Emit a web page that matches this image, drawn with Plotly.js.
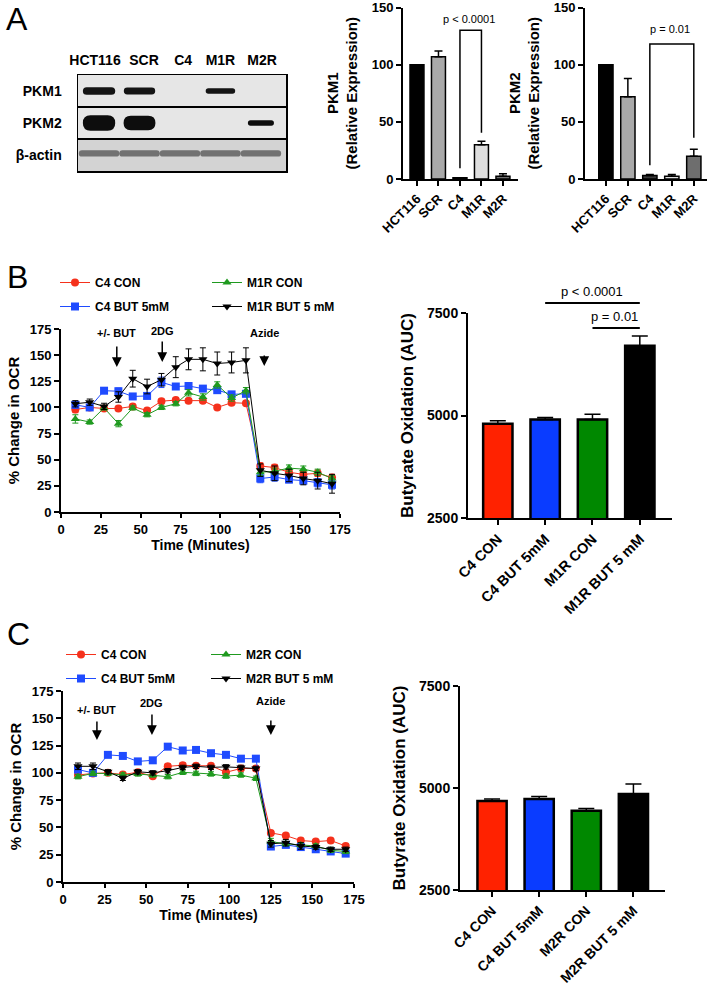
<!DOCTYPE html>
<html><head><meta charset="utf-8">
<script src="https://cdn.plot.ly/plotly-3.0.1.min.js"></script>
<style>html,body{margin:0;padding:0;background:#fff}#chart{width:708px;height:984px}</style>
</head><body><div id="chart"></div>
<script>
// ---------------- data ----------------
const lanes = ['HCT116', 'SCR', 'C4', 'M1R', 'M2R'];
const blotRows = ['PKM1', 'PKM2', 'β-actin'];
// relative band density read from the blot
const pkm1Band = [1.0, 0.9, 0, 0.7, 0];
const pkm2Band = [1.0, 0.95, 0, 0, 0.35];
const actinBand = [0.45, 0.45, 0.45, 0.45, 0.45];

const pkm1Expr = [100, 107, 1, 30, 2.5];
const pkm1Err = [0, 5, 0, 3, 2];
const pkm2Expr = [100, 72, 3, 2.5, 20];
const pkm2Err = [0, 16, 1, 1.5, 6];

const timeMin = [9, 18, 27, 36, 45, 54, 63, 72, 80, 89, 98, 107, 116, 125, 134, 143, 152, 161, 170];

const bC4Con = [98, 100, 99, 99, 101, 97, 106, 107, 106.5, 106.5, 100, 104.5, 104, 44, 42.5, 38, 36, 37, 33];
const bC4ConErr = [3, 2, 2, 2, 2, 2, 2, 2, 2, 2, 2, 2, 2, 3, 3, 3, 3, 3, 3];
const bC4But = [102.5, 100, 116, 115.5, 110.5, 111, 124, 120, 120.5, 118, 116.5, 112.5, 113, 32, 33.5, 31, 30, 28, 26];
const bC4ButErr = [3, 2, 2, 3, 2, 2, 5, 2, 2, 2, 2, 2, 2, 4, 4, 3, 3, 4, 4];
const bM1RCon = [89, 86, 99.5, 84.5, 99.5, 93, 100, 103.5, 114, 110, 121.5, 109, 116, 38, 39, 42, 41, 38, 32];
const bM1RConErr = [4, 2, 2, 3, 2, 2, 2, 2, 3, 3, 3, 3, 3, 3, 3, 3, 3, 3, 3];
const bM1RBut = [103.5, 105, 101, 110, 127.5, 120, 126.5, 138.5, 146, 146, 142, 143, 145, 40, 37, 35, 32, 30, 27];
const bM1RButErr = [3, 3, 3, 5, 8, 7, 6, 10, 10, 11, 11, 10, 12, 6, 7, 6, 6, 8, 9];

const cC4Con = [98, 99.5, 100, 98.5, 100.5, 97, 106, 107, 106.5, 106.5, 100.5, 104, 104, 45, 42.5, 38, 37, 38, 33];
const cC4ConErr = [2, 2, 2, 2, 2, 2, 2, 2, 2, 2, 2, 2, 2, 2, 2, 2, 2, 2, 2];
const cC4But = [103, 100, 116.5, 115.5, 110.5, 111.5, 124, 120.5, 121, 118, 116.5, 113, 113, 32.5, 34, 32, 30, 28, 26];
const cC4ButErr = [2, 2, 2, 2, 2, 2, 2, 2, 2, 2, 2, 2, 2, 2, 2, 2, 2, 2, 2];
const cM2RCon = [96.5, 99.5, 99.5, 98, 99, 98, 96.5, 100.5, 99.5, 99, 97, 98, 95, 37, 35, 34, 33, 29, 28];
const cM2RConErr = [2, 2, 2, 2, 2, 2, 2, 2, 2, 2, 2, 2, 2, 3, 2, 2, 2, 2, 2];
const cM2RBut = [106, 106, 101, 95, 101, 100, 102, 105, 106, 105, 105.5, 105, 104, 35, 36, 33, 32, 30, 30];
const cM2RButErr = [3, 3, 2, 2, 2, 2, 2, 2, 2, 2, 2, 2, 2, 3, 3, 3, 2, 2, 2];

const aucCatsB = ['C4 CON', 'C4 BUT 5mM', 'M1R CON', 'M1R BUT 5 mM'];
const aucB = [4800, 4900, 4900, 6700];
const aucErrB = [70, 50, 130, 240];
const aucCatsC = ['C4 CON', 'C4 BUT 5mM', 'M2R CON', 'M2R BUT 5 mM'];
const aucC = [4680, 4730, 4440, 4850];
const aucErrC = [50, 60, 60, 250];

// ---------------- styles ----------------
const F = 'Liberation Sans, Arial, Helvetica, sans-serif';
const W = 708, H = 984;
const px = a => a / W, py = b => 1 - b / H;
const dx = (a, b) => [a / W, b / W];
const dy = (top, bot) => [1 - bot / H, 1 - top / H];
const laneColors = ['#000000', '#a9a9a9', '#3a3a3a', '#dedede', '#6e6e6e'];
const aucColors = ['#ff2200', '#0a3cff', '#008800', '#000000'];
const RED = '#f5311c', BLUE = '#1f4bff', GREEN = '#1f9a1f', BLACK = '#000000';
const bold = (size) => ({family: F, size: size, color: '#000', weight: 700});

function axStyle(extra) {
  return Object.assign({
    showline: true, linecolor: '#000', linewidth: 2, ticks: 'outside', ticklen: 5,
    tickwidth: 2, tickcolor: '#000', showgrid: false, zeroline: false, ticklabeloverflow: 'allow',
    tickfont: bold(13), fixedrange: true
  }, extra);
}
const zeros = n => new Array(n).fill(0);

// ---------------- traces ----------------
const traces = [];
function exprBar(y, err, xa, ya) {
  return {type: 'bar', x: lanes, y: y, xaxis: xa, yaxis: ya, width: 0.65, showlegend: false,
    marker: {color: laneColors, line: {color: '#000', width: 1.5}},
    error_y: {type: 'data', symmetric: false, array: err, arrayminus: zeros(err.length), color: '#000', thickness: 1.5, width: 4}};
}
traces.push(exprBar(pkm1Expr, pkm1Err, 'x', 'y'));
traces.push(exprBar(pkm2Expr, pkm2Err, 'x2', 'y2'));

function ocr(name, y, err, color, symbol, size, xa, ya, leg) {
  return {type: 'scatter', mode: 'lines+markers', name: name, x: timeMin, y: y, xaxis: xa, yaxis: ya,
    legend: leg, legendgroup: name + leg, cliponaxis: false,
    line: {color: color, width: 1}, marker: {color: color, symbol: symbol, size: size},
    error_y: {type: 'data', array: err, color: color, thickness: 1, width: 3}};
}
traces.push(ocr('C4 CON', bC4Con, bC4ConErr, RED, 'circle', 8, 'x3', 'y3', 'legend'));
traces.push(ocr('C4 BUT 5mM', bC4But, bC4ButErr, BLUE, 'square', 8, 'x3', 'y3', 'legend'));
traces.push(ocr('M1R CON', bM1RCon, bM1RConErr, GREEN, 'triangle-up', 8, 'x3', 'y3', 'legend2'));
traces.push(ocr('M1R BUT 5 mM', bM1RBut, bM1RButErr, BLACK, 'triangle-down', 8, 'x3', 'y3', 'legend2'));

traces.push(ocr('C4 CON', cC4Con, cC4ConErr, RED, 'circle', 8, 'x5', 'y5', 'legend3'));
traces.push(ocr('C4 BUT 5mM', cC4But, cC4ButErr, BLUE, 'square', 8, 'x5', 'y5', 'legend3'));
traces.push(ocr('M2R CON', cM2RCon, cM2RConErr, GREEN, 'triangle-up', 8, 'x5', 'y5', 'legend4'));
traces.push(ocr('M2R BUT 5 mM', cM2RBut, cM2RButErr, BLACK, 'triangle-down', 8, 'x5', 'y5', 'legend4'));

function aucBar(cats, y, err, xa, ya) {
  return {type: 'bar', x: cats, y: y, xaxis: xa, yaxis: ya, width: 0.62, showlegend: false,
    marker: {color: aucColors, line: {color: '#000', width: 2.5}},
    error_y: {type: 'data', symmetric: false, array: err, arrayminus: zeros(err.length), color: '#000', thickness: 1.5, width: 8}};
}
traces.push(aucBar(aucCatsB, aucB, aucErrB, 'x4', 'y4'));
traces.push(aucBar(aucCatsC, aucC, aucErrC, 'x6', 'y6'));
// blot subplot holder
traces.push({type: 'scatter', x: [], y: [], xaxis: 'x7', yaxis: 'y7', showlegend: false});

// ---------------- blot shapes ----------------
const shapes = [];
const rowBg = ['#e6e6e6', '#e6e6e6', '#d3d3d3'];
rowBg.forEach((c, r) => shapes.push({type: 'rect', xref: 'x7', yref: 'y7', x0: -0.6, x1: 4.7, y0: r - 0.5, y1: r + 0.5,
  fillcolor: c, line: {width: 0}, layer: 'below'}));
const laneRowRatio = 32 / 40.5;
function bandPath(i, r, hw, hh) {
  const rx = Math.min(hh * laneRowRatio, hw * 0.5);
  const xl = i - hw, xr = i + hw, yt = r - hh, yb = r + hh;
  return `M${xl + rx},${yt} L${xr - rx},${yt} Q${xr},${yt} ${xr},${r} Q${xr},${yb} ${xr - rx},${yb} ` +
    `L${xl + rx},${yb} Q${xl},${yb} ${xl},${r} Q${xl},${yt} ${xl + rx},${yt} Z`;
}
[[pkm1Band, 0, 0.12, 'rgba(12,12,12,0.97)'], [pkm2Band, 1, 0.24, 'rgba(8,8,8,0.98)'], [actinBand, 2, 0.22, 'rgba(55,55,55,0.62)']]
  .forEach(([band, r, scale, col]) => {
    band.forEach((v, i) => {
      if (v <= 0) return;
      const hw = r === 2 ? 0.5 : 0.4 * (0.7 + 0.3 * v);
      shapes.push({type: 'path', xref: 'x7', yref: 'y7', path: bandPath(i, r + (r === 2 ? -0.05 : 0), hw, scale * v),
        fillcolor: col, line: {width: 0}, layer: 'above'});
    });
  });
[0.5, 1.5].forEach(v => shapes.push({type: 'line', xref: 'x7', yref: 'y7', x0: -0.6, x1: 4.7, y0: v, y1: v,
  line: {color: '#000', width: 2}}));

// significance brackets
shapes.push({type: 'path', xref: 'x', yref: 'y', path: 'M2,9.5 L2,130 L3,130 L3,40.5', line: {color: '#000', width: 1.5}});
shapes.push({type: 'path', xref: 'x2', yref: 'y2', path: 'M2,12 L2,118 L4,118 L4,36', line: {color: '#000', width: 1.5}});
shapes.push({type: 'line', xref: 'x4', yref: 'paper', x0: 1, x1: 3, y0: py(303), y1: py(303), line: {color: '#000', width: 2}});
shapes.push({type: 'line', xref: 'x4', yref: 'paper', x0: 2, x1: 3, y0: py(328), y1: py(328), line: {color: '#000', width: 2}});

// ---------------- annotations ----------------
const ann = [];
[['A', 17, 19], ['B', 17, 277], ['C', 18, 634]].forEach(([t, x, y]) => ann.push({text: t, xref: 'paper', yref: 'paper',
  x: px(x), y: py(y), showarrow: false, xanchor: 'center', yanchor: 'middle', font: {family: F, size: 32, color: '#000'}}));
const pfont = s => ({family: F, size: s, color: '#000'});
ann.push({text: 'p < 0.0001', xref: 'x', yref: 'y', x: 2.4, y: 140, showarrow: false, font: pfont(11)});
ann.push({text: 'p = 0.01', xref: 'x2', yref: 'y2', x: 2.9, y: 131, showarrow: false, font: pfont(11)});
ann.push({text: 'p < 0.0001', xref: 'x4', yref: 'paper', x: 2, y: py(301), yanchor: 'bottom', showarrow: false, font: pfont(13)});
ann.push({text: 'p = 0.01', xref: 'x4', yref: 'paper', x: 2.47, y: py(326), yanchor: 'bottom', showarrow: false, font: pfont(13)});
function arrowAnn(text, xa, ya, x, y, ay, pad) {
  return {text: text, xref: xa, yref: ya, x: x, y: y, ax: 0, ay: ay, showarrow: true, arrowhead: 2, arrowsize: 1.3,
    arrowwidth: 1.5, arrowcolor: '#000', borderpad: pad, font: bold(11)};
}
ann.push(arrowAnn('+/- BUT', 'x3', 'y3', 35, 138.6, -34, 7));
ann.push(arrowAnn('2DG', 'x3', 'y3', 63.5, 143.4, -31, 4));
ann.push(arrowAnn('Azide', 'x3', 'y3', 127.5, 139.6, -33, 16));
ann.push(arrowAnn('+/- BUT', 'x5', 'y5', 20.4, 130.1, -30, 5));
ann.push(arrowAnn('2DG', 'x5', 'y5', 53.5, 134.7, -32, 5));
ann.push(arrowAnn('Azide', 'x5', 'y5', 125, 134.7, -34, 13));

// ---------------- layout ----------------
const legBase = (x, y) => ({x: px(x), y: py(y), xanchor: 'left', yanchor: 'top', font: bold(12),
  bgcolor: 'rgba(0,0,0,0)', tracegroupgap: 5, itemwidth: 30, orientation: 'v'});

const layout = {
  width: W, height: H, margin: {l: 0, r: 0, t: 0, b: 0}, paper_bgcolor: '#fff', plot_bgcolor: 'rgba(0,0,0,0)',
  font: {family: F, color: '#000'}, bargap: 0.35,
  showlegend: true,
  legend: legBase(55, 268), legend2: legBase(207, 268),
  legend3: legBase(61, 640), legend4: legBase(206, 640),
  xaxis: axStyle({domain: dx(403, 518), range: [-0.65, 4.7], anchor: 'y', tickangle: -45}),
  yaxis: axStyle({domain: dy(7.5, 179), range: [0, 150], anchor: 'x', tickvals: [0, 50, 100, 150],
    title: {text: 'PKM1<br>(Relative Expression)', font: bold(15), standoff: 10}}),
  xaxis2: axStyle({domain: dx(585, 707), range: [-0.95, 4.6], anchor: 'y2', tickangle: -45}),
  yaxis2: axStyle({domain: dy(7.5, 179), range: [0, 150], anchor: 'x2', tickvals: [0, 50, 100, 150],
    title: {text: 'PKM2<br>(Relative Expression)', font: bold(15), standoff: 10}}),
  xaxis3: axStyle({domain: dx(61, 340), range: [0, 175], anchor: 'y3', dtick: 25, ticklen: 4,
    title: {text: 'Time (Minutes)', font: bold(14), standoff: 1}}),
  yaxis3: axStyle({domain: dy(329, 512), range: [0, 175], anchor: 'x3', dtick: 25,
    title: {text: '% Change in OCR', font: bold(15), standoff: 6}}),
  xaxis4: axStyle({domain: dx(468, 672), range: [-0.63, 3.68], anchor: 'y4', tickangle: -45, tickfont: bold(14.5)}),
  yaxis4: axStyle({domain: dy(313, 518), range: [2500, 7500], anchor: 'x4', tickvals: [2500, 5000, 7500], tickfont: bold(14),
    title: {text: 'Butyrate Oxidation (AUC)', font: bold(17), standoff: 9}}),
  xaxis5: axStyle({domain: dx(63, 354), range: [0, 175], anchor: 'y5', dtick: 25, ticklen: 4,
    title: {text: 'Time (Minutes)', font: bold(14), standoff: 1}}),
  yaxis5: axStyle({domain: dy(691, 882), range: [0, 175], anchor: 'x5', dtick: 25,
    title: {text: '% Change in OCR', font: bold(15), standoff: 6}}),
  xaxis6: axStyle({domain: dx(460, 665), range: [-0.68, 3.67], anchor: 'y6', tickangle: -45, tickfont: bold(14)}),
  yaxis6: axStyle({domain: dy(686, 890), range: [2500, 7500], anchor: 'x6', tickvals: [2500, 5000, 7500], tickfont: bold(14),
    title: {text: 'Butyrate Oxidation (AUC)', font: bold(17), standoff: 9}}),
  xaxis7: {domain: dx(78, 286), range: [-0.52, 4.62], anchor: 'y7', side: 'top', showline: true, mirror: true,
    linecolor: '#000', linewidth: 1.5, showgrid: false, zeroline: false, tickmode: 'array', tickvals: [-0.1, 1.11, 2.08, 3.0, 4.03],
    ticktext: lanes, ticks: 'outside', ticklen: 3, tickcolor: 'rgba(0,0,0,0)', tickangle: 0, tickfont: bold(14), fixedrange: true},
  yaxis7: {domain: dy(75, 171), range: [2.5, -0.5], anchor: 'x7', showline: true, mirror: true,
    linecolor: '#000', linewidth: 1.5, showgrid: false, zeroline: false, tickmode: 'array', tickvals: [0, 1, 2],
    ticktext: blotRows, ticks: 'outside', ticklen: 12, tickcolor: 'rgba(0,0,0,0)', tickfont: bold(14), fixedrange: true},
  shapes: shapes, annotations: ann
};

Plotly.newPlot('chart', traces, layout, {displayModeBar: false, staticPlot: true});
</script>
</body></html>
